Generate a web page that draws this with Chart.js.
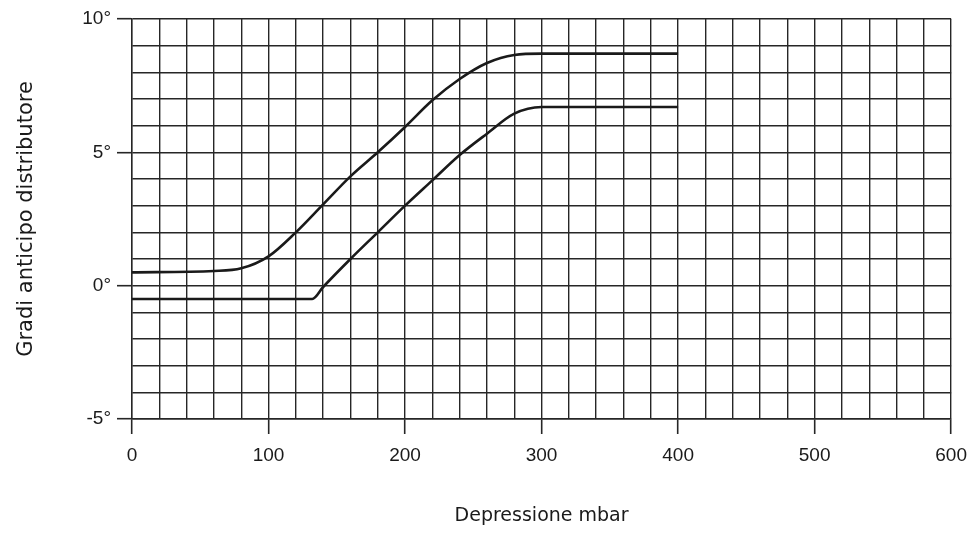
<!DOCTYPE html>
<html>
<head>
<meta charset="utf-8">
<script src="https://cdn.jsdelivr.net/npm/chart.js@4"></script>
<style>
  html, body { margin: 0; padding: 0; background: #fff; }
</style>
</head>
<body>
<canvas id="myChart" width="977" height="539"></canvas>
<script>
// depressione (mbar) -> gradi anticipo
const upperPressure = [0, 60, 80, 100, 120, 140, 160, 180, 200, 220, 240, 260, 280, 300, 400]
const upperAdvance = [0.5, 0.55, 0.65, 1.1, 2.0, 3.05, 4.1, 5.0, 5.95, 6.95, 7.75, 8.35, 8.65, 8.7, 8.7]

const lowerPressure = [0, 132, 140, 160, 180, 200, 220, 240, 260, 280, 300, 400]
const lowerAdvance = [-0.5, -0.5, -0.05, 1.0, 2.0, 3.0, 3.95, 4.9, 5.7, 6.45, 6.7, 6.7]

const xTickLabels = [0, 100, 200, 300, 400, 500, 600]
const yTickLabels = [-5, 0, 5, 10]

const ink = '#1a1a1a'
const gridInk = '#262626'

function toPoints(xs, ys) {
    return xs.map((x, i) => ({ x: x, y: ys[i] }))
}

const ctx = document.getElementById('myChart').getContext('2d')

const lineStyle = {
    borderColor: ink,
    borderWidth: 2.6,
    pointRadius: 0,
    fill: false,
    cubicInterpolationMode: 'monotone',
}

new Chart(ctx, {
    type: 'line',
    data: {
        datasets: [
            { ...lineStyle, label: 'max', data: toPoints(upperPressure, upperAdvance) },
            { ...lineStyle, label: 'min', data: toPoints(lowerPressure, lowerAdvance) },
        ],
    },
    options: {
        responsive: false,
        animation: false,
        layout: { padding: { left: 0, right: 25, top: 19, bottom: 0 } },
        plugins: { legend: { display: false }, tooltip: { enabled: false } },
        scales: {
            x: {
                type: 'linear',
                min: 0,
                max: 600,
                border: { color: gridInk, width: 1.4 },
                grid: {
                    color: gridInk,
                    lineWidth: 1.4,
                    tickLength: 15,
                    tickWidth: 1.6,
                    tickColor: c => (c.index % 5 === 0 ? gridInk : 'rgba(0,0,0,0)'),
                },
                ticks: {
                    stepSize: 20,
                    autoSkip: false,
                    maxRotation: 0,
                    padding: 10,
                    color: ink,
                    font: { family: 'Liberation Sans', size: 19 },
                    callback: v => (xTickLabels.includes(v) ? String(v) : ''),
                },
                title: {
                    display: true,
                    text: 'Depressione mbar',
                    color: ink,
                    font: { family: 'DejaVu Sans', size: 19 },
                    padding: { top: 0, bottom: 12 },
                },
                afterFit: s => { s.height = 539 - 419 },
            },
            y: {
                type: 'linear',
                min: -5,
                max: 10,
                border: { color: gridInk, width: 1.4 },
                grid: {
                    color: gridInk,
                    lineWidth: 1.4,
                    tickLength: 15,
                    tickWidth: 1.6,
                    tickColor: c => (c.index % 5 === 0 ? gridInk : 'rgba(0,0,0,0)'),
                },
                ticks: {
                    stepSize: 1,
                    autoSkip: false,
                    padding: 6,
                    color: ink,
                    font: { family: 'Liberation Sans', size: 19 },
                    callback: v => (yTickLabels.includes(v) ? v + '°' : ''),
                },
                title: {
                    display: true,
                    text: 'Gradi anticipo distributore',
                    color: ink,
                    font: { family: 'DejaVu Sans', size: 21 },
                    padding: { top: 14, bottom: 0 },
                },
                afterFit: s => { s.width = 132 },
            },
        },
    },
})
</script>
</body>
</html>
